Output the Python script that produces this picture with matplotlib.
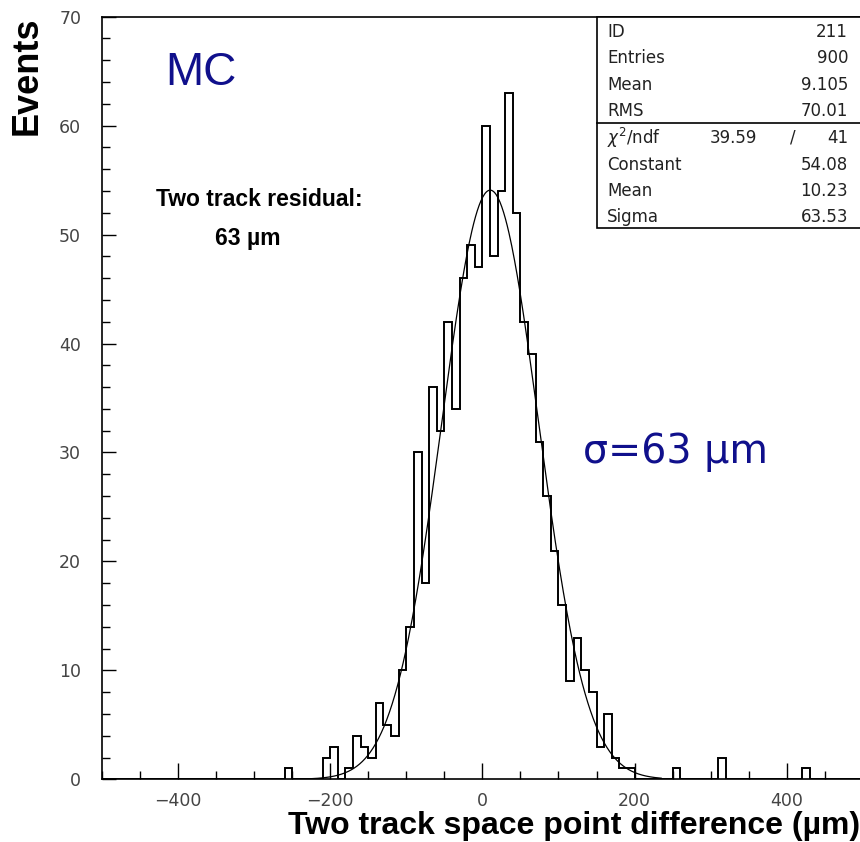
import numpy as np
import matplotlib
matplotlib.use("Agg")
import matplotlib.pyplot as plt
from matplotlib.patches import Rectangle
from matplotlib.lines import Line2D
from matplotlib.ticker import MultipleLocator

# ---------------- data ----------------
bin_lo, bin_hi, bin_w = -500, 500, 10
# non-empty bins: lower edge -> entries
bin_starts = [-260, -210, -200, -180, -170, -160, -150, -140, -130, -120,
              -110, -100, -90, -80, -70, -60, -50, -40, -30, -20,
              -10, 0, 10, 20, 30, 40, 50, 60, 70, 80,
              90, 100, 110, 120, 130, 140, 150, 160, 170, 180,
              190, 250, 310, 420]
bin_counts = [1, 2, 3, 1, 4, 3, 2, 7, 5, 4,
              10, 14, 30, 18, 36, 32, 42, 34, 46, 49,
              47, 60, 48, 54, 63, 52, 42, 39, 31, 26,
              21, 16, 9, 13, 10, 8, 3, 6, 2, 1,
              1, 1, 2, 1]
# Gaussian fit parameters (from stats box)
fit_const, fit_mean, fit_sigma = 54.08, 10.23, 63.53
fit_range = (-240, 235)

stat_labels = ["ID", "Entries", "Mean", "RMS"]
stat_values = ["211", "900", "9.105", "70.01"]
fit_labels = ["Constant", "Mean", "Sigma"]
fit_values = ["54.08", "10.23", "63.53"]
chi2_val, ndf_val = "39.59", "41"

x_ticks = [-400, -200, 0, 200, 400]
y_ticks = [0, 10, 20, 30, 40, 50, 60, 70]

# ---------------- figure ----------------
W, H = 860, 842
fig = plt.figure(figsize=(W / 100, H / 100), dpi=100)

def fx(px):
    return px / W

def fy(py):
    return 1 - py / H

ax_l, ax_r, ax_t, ax_b = 102, 862.8, 16.7, 779.3
ax = fig.add_axes([fx(ax_l), fy(ax_b), fx(ax_r - ax_l), (ax_b - ax_t) / H])

edges = np.arange(bin_lo, bin_hi + bin_w, bin_w)
counts = np.zeros(len(edges) - 1)
for s, c in zip(bin_starts, bin_counts):
    counts[int(round((s - bin_lo) / bin_w))] = c

ax.stairs(counts, edges, baseline=0, color="black", lw=1.4)

xf = np.linspace(fit_range[0], fit_range[1], 400)
yf = fit_const * np.exp(-0.5 * ((xf - fit_mean) / fit_sigma) ** 2)
ax.plot(xf, yf, color="black", lw=0.9)

ax.set_xlim(bin_lo, bin_hi)
ax.set_ylim(0, 70)
ax.set_xticks(x_ticks)
ax.set_yticks(y_ticks)
ax.xaxis.set_minor_locator(MultipleLocator(50))
ax.yaxis.set_minor_locator(MultipleLocator(2))
ax.tick_params(axis="x", which="major", direction="in", length=11.5, width=1,
               pad=9, labelsize=12.5, labelcolor="#444")
ax.tick_params(axis="x", which="minor", direction="in", length=5.8, width=1)
ax.tick_params(axis="y", which="major", direction="in", length=10, width=1,
               pad=15, labelsize=12.5, labelcolor="#444")
ax.tick_params(axis="y", which="minor", direction="in", length=5.5, width=1)
for sp in ax.spines.values():
    sp.set_linewidth(1.2)
ax.spines["right"].set_visible(False)

# ---------------- texts ----------------
fig.text(fx(27), fy(76), "Events", rotation=90, ha="center", va="center",
         fontsize=26, fontweight="bold", family="Liberation Sans")
fig.text(fx(860), fy(826), "Two track space point difference (\u00b5m)",
         ha="right", va="center", fontsize=23, fontweight="bold",
         family="Liberation Sans")
fig.text(fx(165), fy(73), "MC", ha="left", va="center", fontsize=33,
         color="#10108c", family="Liberation Sans")
fig.text(fx(259), fy(199), "Two track residual:", ha="center", va="center",
         fontsize=16.5, fontweight="bold", family="Liberation Sans")
fig.text(fx(248), fy(239), "63 \u00b5m", ha="center", va="center",
         fontsize=16.5, fontweight="bold", family="Liberation Sans")
fig.text(fx(583), fy(452), "\u03c3=63 \u00b5m", ha="left", va="center",
         fontsize=28.5, color="#10108c", family="DejaVu Sans")

# ---------------- stats box ----------------
box_l, box_t, box_b, sep_y = 596.7, 16.7, 228, 123
fig.add_artist(Rectangle((fx(box_l), fy(box_b)), fx(400), (box_b - box_t) / H,
                         transform=fig.transFigure, fill=True, facecolor="white",
                         edgecolor="black", lw=1.2, zorder=5))
fig.add_artist(Line2D([fx(box_l), fx(870)], [fy(sep_y), fy(sep_y)],
                      transform=fig.transFigure, color="black", lw=1.2, zorder=6))

row_y = [31.7, 58.2, 84.8, 111.3, 138, 164.5, 191, 217]
sfont = dict(fontsize=12, color="#222", family="DejaVu Sans", va="center", zorder=7)
for i, (lab, val) in enumerate(zip(stat_labels, stat_values)):
    fig.text(fx(607), fy(row_y[i]), lab, ha="left", **sfont)
    fig.text(fx(848), fy(row_y[i]), val, ha="right", **sfont)
fig.text(fx(607), fy(row_y[4]), "$\\chi^2$/ndf", ha="left", **sfont)
fig.text(fx(757), fy(row_y[4]), chi2_val, ha="right", **sfont)
fig.text(fx(793), fy(row_y[4]), "/", ha="center", **sfont)
fig.text(fx(848), fy(row_y[4]), ndf_val, ha="right", **sfont)
for i, (lab, val) in enumerate(zip(fit_labels, fit_values)):
    fig.text(fx(607), fy(row_y[5 + i]), lab, ha="left", **sfont)
    fig.text(fx(848), fy(row_y[5 + i]), val, ha="right", **sfont)

fig.savefig("out.png", dpi=100)
